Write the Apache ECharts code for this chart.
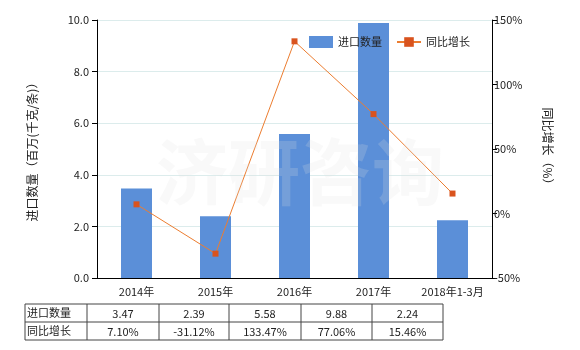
<!DOCTYPE html>
<html><head><meta charset="utf-8">
<script src="https://cdn.jsdelivr.net/npm/echarts@6/dist/echarts.min.js"></script>
<style>html,body{margin:0;padding:0;background:#fff}#c{width:580px;height:350px}</style>
</head><body><div id="c"></div>
<script>
var categories = ['2014年','2015年','2016年','2017年','2018年1-3月'];
var importQty = [3.47, 2.39, 5.58, 9.88, 2.24];
var yoyGrowth = [7.10, -31.12, 133.47, 77.06, 15.46];
var qtyLabels = ['3.47','2.39','5.58','9.88','2.24'];
var growthLabels = ['7.10%','-31.12%','133.47%','77.06%','15.46%'];
var rowNames = ['进口数量','同比增长'];

var FONT = '"Noto Sans CJK SC", "Microsoft YaHei", sans-serif';
var chart = echarts.init(document.getElementById('c'));

// table graphics
var colX = [25, 87, 159, 229, 301, 372, 443];
var rowY = [304, 322, 340];
var g = [];
var lc = '#444';
rowY.forEach(function(y){ g.push({type:'line', shape:{x1:colX[0],y1:y,x2:colX[6],y2:y}, style:{stroke:lc,lineWidth:1}, silent:true}); });
colX.forEach(function(x){ g.push({type:'line', shape:{x1:x,y1:rowY[0],x2:x,y2:rowY[2]}, style:{stroke:lc,lineWidth:1}, silent:true}); });
var rows = [qtyLabels, growthLabels];
rows.forEach(function(r, ri){
  var cy = (rowY[ri] + rowY[ri+1]) / 2;
  g.push({type:'text', x:colX[0]+2, y:cy, style:{text:rowNames[ri], font:'11px '+FONT, fill:'#222', textVerticalAlign:'middle', verticalAlign:'middle'}, silent:true});
  r.forEach(function(t, ci){
    g.push({type:'text', x:(colX[ci+1]+colX[ci+2])/2, y:cy+1, style:{text:t, font:'11px '+FONT, fill:'#222', textAlign:'center', align:'center', textVerticalAlign:'middle', verticalAlign:'middle'}, silent:true});
  });
});
// watermark
g.push({type:'text', x:300, y:172, z:100, style:{text:'济研咨询', font:'bold 72px '+FONT, fill:'rgba(225,225,225,0.2)', textAlign:'center', align:'center', textVerticalAlign:'middle', verticalAlign:'middle'}, silent:true});

var option = {
  animation: false,
  backgroundColor: '#fff',
  textStyle: {fontFamily: FONT},
  grid: {left: 97, right: 88, top: 20, bottom: 72},
  legend: {
    top: 31, left: 304, itemGap: 14, itemWidth: 24, itemHeight: 12,
    textStyle: {fontSize: 11, color: '#222', fontFamily: FONT},
    data: [
      {name: '进口数量', icon: 'rect'},
      {name: '同比增长'}
    ]
  },
  xAxis: {
    type: 'category', data: categories,
    axisLine: {lineStyle: {color: '#000'}},
    axisTick: {alignWithLabel: true, lineStyle: {color: '#000'}},
    axisLabel: {color: '#222', fontSize: 11, margin: 8, interval: 0, fontFamily: FONT}
  },
  yAxis: [
    {
      type: 'value', min: 0, max: 10, interval: 2,
      name: '进口数量（百万(千克/条)）', nameLocation: 'middle', nameGap: 59, nameRotate: 90,
      nameTextStyle: {fontSize: 12, color: '#222', fontFamily: FONT},
      axisLine: {show: true, lineStyle: {color: '#000'}},
      axisTick: {show: true, lineStyle: {color: '#000'}},
      axisLabel: {color: '#222', fontSize: 11, formatter: function(v){return v.toFixed(1);}},
      splitLine: {lineStyle: {color: '#dcecec'}}
    },
    {
      type: 'value', min: -50, max: 150, interval: 50,
      name: '同比增长（%）', nameLocation: 'middle', nameGap: 50, nameRotate: -90,
      nameTextStyle: {fontSize: 12, color: '#222', fontFamily: FONT},
      axisLine: {show: true, lineStyle: {color: '#000'}},
      axisTick: {show: true, lineStyle: {color: '#000'}},
      axisLabel: {color: '#222', fontSize: 11, margin: 2, formatter: '{value}%'},
      splitLine: {show: false}
    }
  ],
  series: [
    {
      name: '进口数量', type: 'bar', data: importQty, barWidth: 31,
      itemStyle: {color: '#5b8fd8'}
    },
    {
      name: '同比增长', type: 'line', yAxisIndex: 1, data: yoyGrowth,
      symbol: 'rect', symbolSize: 6,
      lineStyle: {color: '#ec7d30', width: 1},
      itemStyle: {color: '#d9531e'}
    }
  ],
  graphic: g
};
chart.setOption(option);
</script>
</body></html>
